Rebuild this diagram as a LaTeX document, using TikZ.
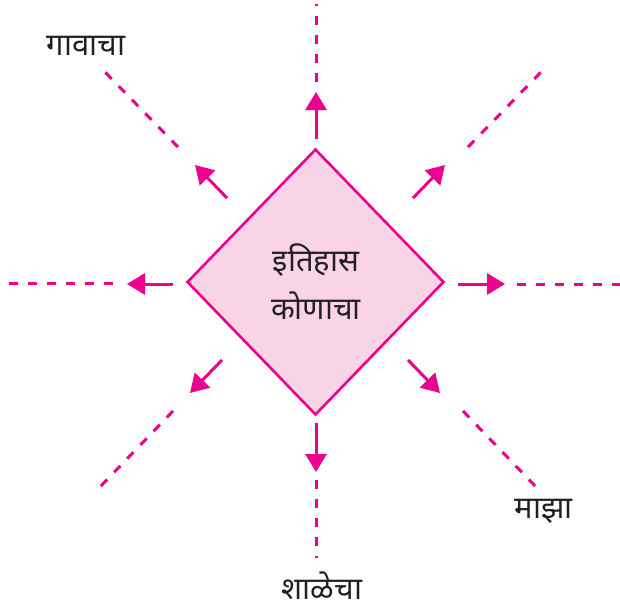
\documentclass[tikz,border=0pt]{standalone}
\usepackage{fontspec}
\newfontfamily\deva[Script=Devanagari]{Noto Sans}
\usetikzlibrary{shapes.geometric,arrows.meta}
\definecolor{mag}{HTML}{EC008C}
\definecolor{pinkfill}{HTML}{F9D4E6}
\definecolor{txt}{HTML}{231F20}
\tikzset{
  arr/.style={draw=mag, line width=3pt, -{Triangle[width=21pt,length=18pt]}},
  dsh/.style={draw=mag, line width=3pt, dash pattern=on 9pt off 10pt},
  lbl/.style={font=\deva\fontsize{31}{48}\selectfont, text=txt, inner sep=0pt},
}
\begin{document}
\begin{tikzpicture}[x=1pt,y=-1pt]
\useasboundingbox (0,0) rectangle (620,611);
\node[diamond, draw=mag, fill=pinkfill, line width=2.6pt, minimum width=257pt, minimum height=266pt, inner sep=0pt] (d) at (315.5,282) {};
\node[lbl, align=center] (t) at (316,282) {इतिहास\\कोणाचा};
% arrow endpoints
\coordinate (uA) at (316,139); \coordinate (uB) at (316,92);
\coordinate (uC) at (316,82);  \coordinate (uD) at (316,4);
\coordinate (dA) at (316,423); \coordinate (dB) at (316,472);
\coordinate (dC) at (316,480); \coordinate (dD) at (316,558);
\coordinate (lA) at (173,284); \coordinate (lB) at (127,284);
\coordinate (lC) at (113,283); \coordinate (lD) at (6,283);
\coordinate (rA) at (458,284); \coordinate (rB) at (505,284);
\coordinate (rC) at (517,284); \coordinate (rD) at (620,284);
\coordinate (neA) at (413,198); \coordinate (neB) at (445,165);
\coordinate (neC) at (468,147); \coordinate (neD) at (542,71);
\coordinate (nwA) at (227,198); \coordinate (nwB) at (195,165);
\coordinate (nwC) at (178,147); \coordinate (nwD) at (104,71);
\coordinate (swA) at (222,360); \coordinate (swB) at (190,393);
\coordinate (swC) at (173,411); \coordinate (swD) at (99,488);
\coordinate (seA) at (408,360); \coordinate (seB) at (440,393);
\coordinate (seC) at (463,411); \coordinate (seD) at (537,488);
\foreach \p in {u,d,l,r,ne,nw,sw,se}{
  \draw[arr] (\p A) -- (\p B);
  \draw[dsh] (\p C) -- (\p D);
}
\node[lbl] (gav) at (86,46) {गावाचा};
\node[lbl] (maz) at (544,511) {माझा};
\node[lbl] (sha) at (322,586) {शाळेचा};
\end{tikzpicture}
\end{document}
